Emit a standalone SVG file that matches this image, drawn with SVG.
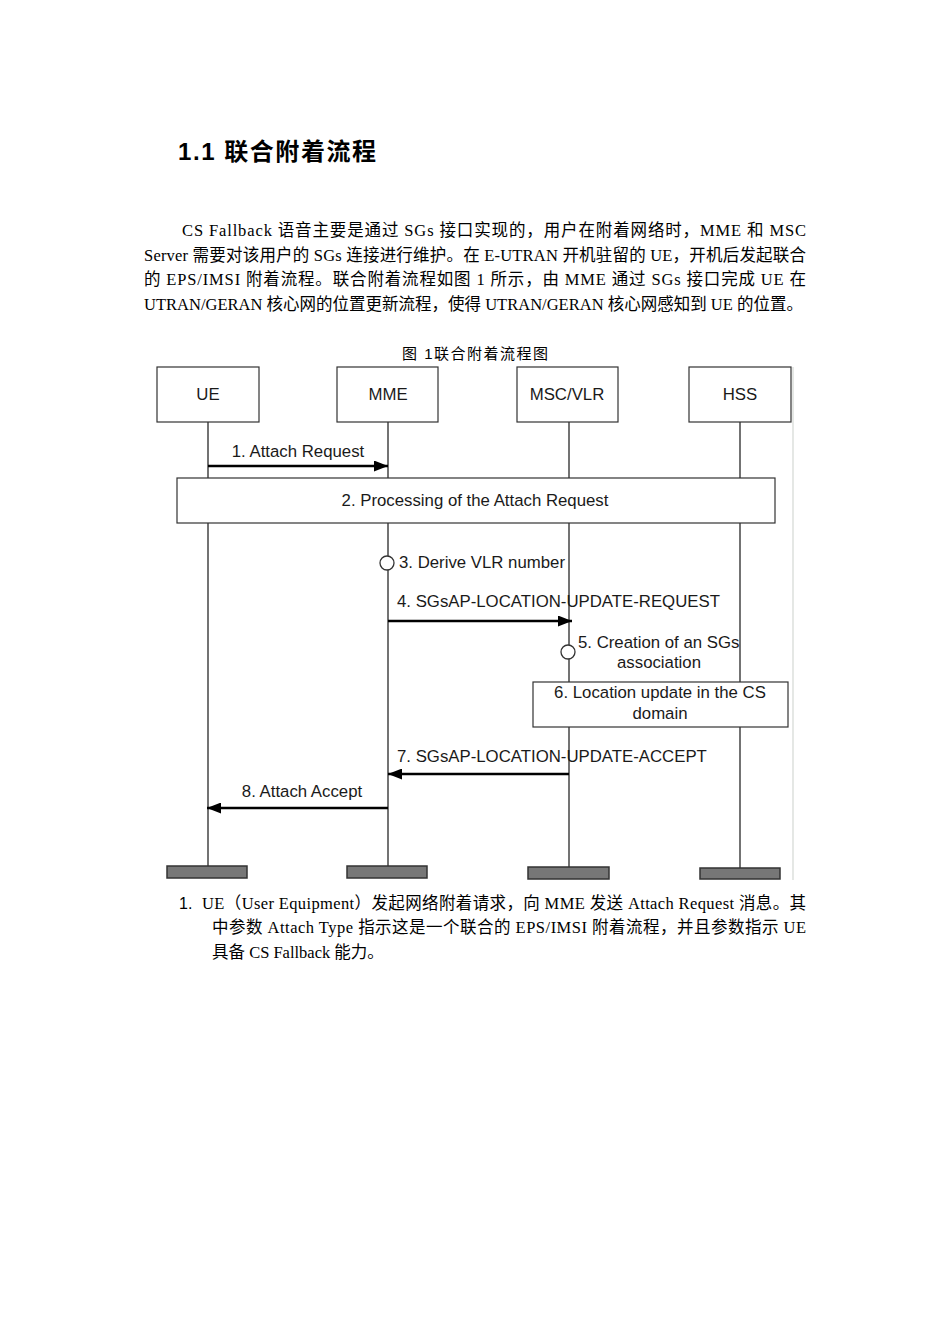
<svg xmlns="http://www.w3.org/2000/svg" width="950" height="1344" viewBox="0 0 950 1344">
<style>
.bg{fill:#fff}
.para{font-family:"Liberation Serif","Noto Sans CJK SC",serif;font-size:16.5px;fill:#000}
.title{font-family:"Liberation Sans","Noto Sans CJK SC",sans-serif;font-size:24px;font-weight:bold;fill:#000}
.cap{font-family:"Liberation Sans","Noto Sans CJK SC",sans-serif;font-size:15px;fill:#000}
.lbl{font-family:"Liberation Sans",Arial,sans-serif;font-size:16.8px;fill:#1a1a1a}
.box{fill:#fff;stroke:#333;stroke-width:1.2}
.life{stroke:#444;stroke-width:1.5;fill:none}
.msg{stroke:#000;stroke-width:2.5;fill:none}
.bar{fill:#777;stroke:#333;stroke-width:1.5}
.act{fill:#fff;stroke:#333;stroke-width:1.3}
</style>
<defs>
<marker id="ah" markerUnits="userSpaceOnUse" markerWidth="14" markerHeight="11" refX="14" refY="5.5" orient="auto">
<path d="M0,0 L14,5.5 L0,11 z" fill="#000"/>
</marker>
</defs>
<rect class="bg" x="0" y="0" width="950" height="1344"/>

<text class="title" x="178" y="160" textLength="198" lengthAdjust="spacing">1.1 联合附着流程</text>

<g id="paragraph">
<text class="para" x="182" y="236" textLength="624" lengthAdjust="spacing">CS Fallback 语音主要是通过 SGs 接口实现的，用户在附着网络时，MME 和 MSC</text>
<text class="para" x="144" y="260.5" textLength="662" lengthAdjust="spacing">Server 需要对该用户的 SGs 连接进行维护。在 E-UTRAN 开机驻留的 UE，开机后发起联合</text>
<text class="para" x="144" y="285" textLength="662" lengthAdjust="spacing">的 EPS/IMSI 附着流程。联合附着流程如图  1 所示，由 MME 通过 SGs 接口完成 UE 在</text>
<text class="para" x="144" y="309.5" textLength="659" lengthAdjust="spacing">UTRAN/GERAN 核心网的位置更新流程，使得 UTRAN/GERAN 核心网感知到 UE 的位置。</text>
</g>

<text class="cap" x="402" y="359" textLength="146" lengthAdjust="spacing">图  1联合附着流程图</text>

<line x1="793" y1="367" x2="793" y2="880" stroke="#d4d8d4" stroke-width="1.2"/>

<g id="lifelines">
<line class="life" x1="208" y1="422" x2="208" y2="866"/>
<line class="life" x1="388" y1="422" x2="388" y2="866"/>
<line class="life" x1="569" y1="422" x2="569" y2="867"/>
<line class="life" x1="740" y1="422" x2="740" y2="868"/>
</g>

<g id="node-ue">
<rect class="box" x="157" y="367" width="102" height="55"/>
<text class="lbl" x="208" y="400" text-anchor="middle">UE</text>
<rect class="bar" x="167" y="866" width="80" height="12"/>
</g>
<g id="node-mme">
<rect class="box" x="337" y="367" width="101" height="55"/>
<text class="lbl" x="388" y="400" text-anchor="middle">MME</text>
<rect class="bar" x="347" y="866" width="80" height="12"/>
</g>
<g id="node-msc">
<rect class="box" x="517" y="367" width="101" height="55"/>
<text class="lbl" x="567" y="400" text-anchor="middle">MSC/VLR</text>
<rect class="bar" x="528" y="867" width="81" height="12"/>
</g>
<g id="node-hss">
<rect class="box" x="689" y="367" width="102" height="55"/>
<text class="lbl" x="740" y="400" text-anchor="middle">HSS</text>
<rect class="bar" x="700" y="868" width="80" height="11"/>
</g>

<g id="step2">
<rect class="box" x="177" y="478" width="598" height="45"/>
<text class="lbl" x="475" y="506" text-anchor="middle">2. Processing of the Attach Request</text>
</g>

<g id="step3">
<circle class="act" cx="387" cy="563" r="7"/>
<text class="lbl" x="399" y="568">3. Derive VLR number</text>
</g>

<g id="step5">
<circle class="act" cx="568" cy="652" r="7"/>
<text class="lbl" x="578" y="648">5. Creation of an SGs</text>
<text class="lbl" x="659" y="668" text-anchor="middle">association</text>
</g>

<g id="step6">
<rect class="box" x="533" y="682" width="255" height="45"/>
<text class="lbl" x="660" y="698" text-anchor="middle">6. Location update in the CS</text>
<text class="lbl" x="660" y="719" text-anchor="middle">domain</text>
</g>

<g id="connectors">
<line class="msg" x1="208" y1="466" x2="388" y2="466" marker-end="url(#ah)"/>
<text class="lbl" x="298" y="457" text-anchor="middle">1. Attach Request</text>
<line class="msg" x1="388" y1="621" x2="572" y2="621" marker-end="url(#ah)"/>
<text class="lbl" x="397" y="607">4. SGsAP-LOCATION-UPDATE-REQUEST</text>
<line class="msg" x1="569" y1="774" x2="388" y2="774" marker-end="url(#ah)"/>
<text class="lbl" x="397" y="762">7. SGsAP-LOCATION-UPDATE-ACCEPT</text>
<line class="msg" x1="388" y1="808" x2="207" y2="808" marker-end="url(#ah)"/>
<text class="lbl" x="302" y="797" text-anchor="middle">8. Attach Accept</text>
</g>

<g id="list">
<text class="cap" x="179" y="909" style="font-size:16px">1.</text>
<text class="para" x="202" y="909" textLength="604" lengthAdjust="spacing">UE（User Equipment）发起网络附着请求，向 MME 发送 Attach Request 消息。其</text>
<text class="para" x="212" y="933" textLength="594" lengthAdjust="spacing">中参数 Attach Type 指示这是一个联合的 EPS/IMSI 附着流程，并且参数指示 UE</text>
<text class="para" x="212" y="958">具备 CS Fallback 能力。</text>
</g>
</svg>
